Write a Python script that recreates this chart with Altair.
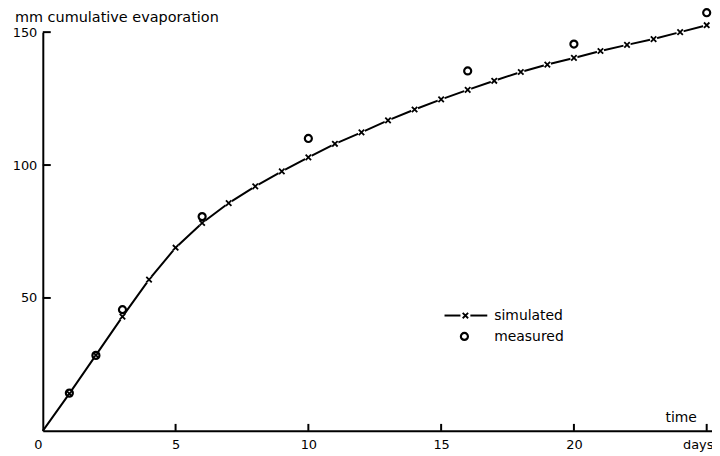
import altair as alt
import pandas as pd

# simulated cumulative evaporation (mm) at each day 0..25
sim_days = list(range(0, 26))
sim_mm = [0, 14, 28.5, 43, 56.9, 68.9, 78.2, 85.7, 92, 97.6, 102.9, 108, 112.3,
          116.8, 120.9, 124.7, 128.3, 131.7, 135, 137.8, 140.3, 142.9, 145.2,
          147.4, 150, 152.6]

# measured cumulative evaporation (mm)
meas_days = [1, 2, 3, 6, 10, 16, 20, 25]
meas_mm = [14.2, 28.4, 45.6, 80.6, 110, 135.4, 145.5, 157.3]

x_ticks = [0, 5, 10, 15, 20, 25]
y_ticks = [50, 100, 150]

FONT = "DejaVu Sans"
W, H = 673, 401

sim = pd.DataFrame({"day": sim_days, "mm": sim_mm})
sim_pts = sim[sim["day"] > 0]
meas = pd.DataFrame({"day": meas_days, "mm": meas_mm})
xt = pd.DataFrame({"v": [5, 10, 15, 20, 25]})
yt = pd.DataFrame({"v": y_ticks})

xs = alt.Scale(domain=[0, 25.2], nice=False, zero=True)
ys = alt.Scale(domain=[0, 150], nice=False)

x_axis = alt.Axis(values=x_ticks, title=None, ticks=False, tickSize=0, grid=False,
                  labelPadding=8, labelFontSize=13,
                  labelExpr="datum.value == 25 ? 'days' : datum.label",
                  labelOffset={"condition": {"test": "datum.value == 0 || datum.value == 25",
                                             "value": -9}, "value": 0})
y_axis = alt.Axis(values=y_ticks, title=None, ticks=False, tickSize=0, grid=False,
                  labelPadding=6, labelFontSize=13)

base = alt.Chart(sim)

line = base.mark_line(color="black", strokeWidth=2, clip=False).encode(
    x=alt.X("day:Q", scale=xs, axis=x_axis),
    y=alt.Y("mm:Q", scale=ys, axis=y_axis),
)

gaps = alt.Chart(sim_pts).mark_point(shape="circle", filled=True, fill="white",
                                     opacity=1, size=55, strokeWidth=0).encode(
    x=alt.X("day:Q", scale=xs), y=alt.Y("mm:Q", scale=ys))

XSHAPE = "M-1,-1L1,1M-1,1L1,-1"
marks = alt.Chart(sim_pts).mark_point(shape=XSHAPE, filled=False, color="black",
                                      opacity=1, size=30, strokeWidth=1.8).encode(
    x=alt.X("day:Q", scale=xs), y=alt.Y("mm:Q", scale=ys))

circles = alt.Chart(meas).mark_point(shape="circle", filled=False, color="black",
                                     opacity=1, size=50, strokeWidth=2.2).encode(
    x=alt.X("day:Q", scale=xs), y=alt.Y("mm:Q", scale=ys))

xtick = alt.Chart(xt).mark_rule(color="black", strokeWidth=2).encode(
    x=alt.X("v:Q", scale=xs), y=alt.value(H), y2=alt.value(H - 7))
ytick = alt.Chart(yt).mark_rule(color="black", strokeWidth=2).encode(
    y=alt.Y("v:Q", scale=ys), x=alt.value(0), x2=alt.value(8))


def label(txt, x, y, align="left", size=14):
    return alt.Chart(pd.DataFrame({"t": [txt]})).mark_text(
        font=FONT, fontSize=size, color="black",
        align=align, baseline="alphabetic").encode(
        text="t:N", x=alt.value(x), y=alt.value(y))


ytitle = label("mm cumulative evaporation", -28, -10, size=14.5)
xtitle = label("time", 642, -9 + H, align="center")

leg_y = 285
leg_line1 = alt.Chart(pd.DataFrame({"a": [0]})).mark_rule(color="black", strokeWidth=2).encode(
    x=alt.value(404), x2=alt.value(420), y=alt.value(leg_y))
leg_line2 = alt.Chart(pd.DataFrame({"a": [0]})).mark_rule(color="black", strokeWidth=2).encode(
    x=alt.value(430), x2=alt.value(447), y=alt.value(leg_y))
leg_x = alt.Chart(pd.DataFrame({"a": [0]})).mark_point(shape=XSHAPE, filled=False, color="black",
                                                      opacity=1, size=30, strokeWidth=1.8).encode(
    x=alt.value(425), y=alt.value(leg_y))
leg_o = alt.Chart(pd.DataFrame({"a": [0]})).mark_point(shape="circle", filled=False, color="black",
                                                      opacity=1, size=50, strokeWidth=2.2).encode(
    x=alt.value(424), y=alt.value(leg_y + 21))
leg_t1 = label("simulated", 454, leg_y + 5)
leg_t2 = label("measured", 454, leg_y + 26)

chart = alt.layer(
    line, gaps, marks, circles, xtick, ytick, ytitle, xtitle,
    leg_line1, leg_line2, leg_x, leg_o, leg_t1, leg_t2
).properties(
    width=W, height=H,
    autosize=alt.AutoSizeParams(type="none"),
    padding={"left": 35, "top": 23, "right": 0, "bottom": 24},
    background="white",
).configure_view(stroke=None).configure_axis(
    domainColor="black", domainWidth=2, labelColor="black",
    labelFont=FONT, labelFontSize=13,
)

chart.save("out.html", embed_options={"renderer": "svg", "actions": False})
